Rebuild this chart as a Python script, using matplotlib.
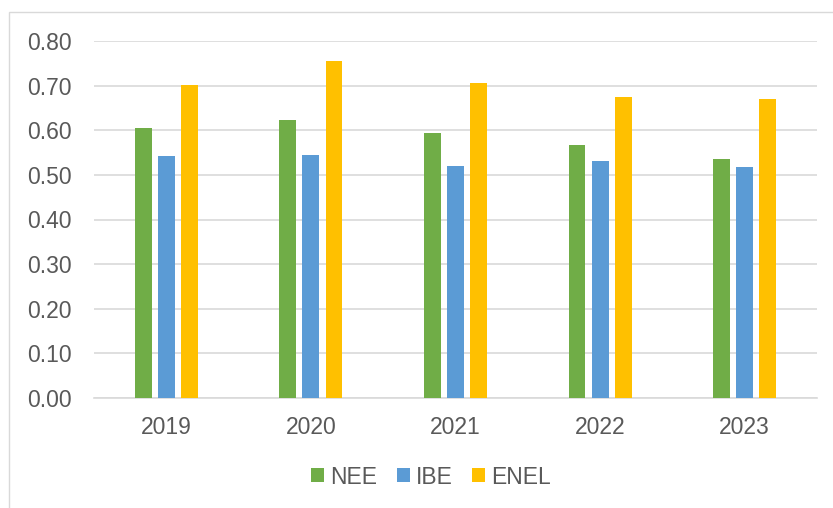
import matplotlib.pyplot as plt
import matplotlib.patches as mpatches
import numpy as np

years = ['2019', '2020', '2021', '2022', '2023']
nee = [0.605, 0.623, 0.594, 0.567, 0.535]
ibe = [0.542, 0.545, 0.519, 0.531, 0.518]
enel = [0.702, 0.756, 0.706, 0.675, 0.669]

series = [('NEE', nee, '#70AD47'), ('IBE', ibe, '#5B9BD5'), ('ENEL', enel, '#FFC000')]
txt = '#595959'
fs = 16.5

plt.rcParams['font.family'] = ['Liberation Sans', 'DejaVu Sans']

fig = plt.figure(figsize=(8.33, 5.08), dpi=100)
ax = fig.add_axes([94/833, 1 - 398/508, (817-94)/833, (398-41)/508])

x = np.arange(len(years))
w = 0.117
step = 0.16
for i, (name, vals, col) in enumerate(series):
    ax.bar(x + (i - 1) * step, vals, width=w, color=col, label=name, zorder=3)

ax.set_xlim(-0.5, len(years) - 0.5)
ax.set_ylim(0, 0.8)
ticks = np.arange(0, 0.81, 0.1)
ax.set_yticks(ticks)
ax.set_yticklabels(['%.2f' % v for v in ticks])
ax.set_xticks(x)
ax.set_xticklabels(years)
ax.grid(axis='y', color='#D9D9D9', linewidth=1.2, zorder=0)
for s in ['top', 'right', 'left']:
    ax.spines[s].set_visible(False)
ax.spines['bottom'].set_color('#D9D9D9')
ax.spines['bottom'].set_linewidth(1.2)
ax.tick_params(axis='both', length=0, labelsize=fs, colors=txt)
ax.tick_params(axis='y', pad=16)
ax.tick_params(axis='x', pad=13)

leg = fig.legend(loc='center', bbox_to_anchor=(431/833, 1 - 477/508), ncol=3, frameon=False,
                 fontsize=fs, handlelength=0.55, handleheight=0.55, handletextpad=0.26,
                 columnspacing=0.87)
for t in leg.get_texts():
    t.set_color(txt)

# outer chart border
fig.patches.append(mpatches.Rectangle((9/833, -0.01), 1.0, 1 - 12/508 + 0.01,
                                      transform=fig.transFigure, fill=False,
                                      edgecolor='#D9D9D9', linewidth=1))

fig.savefig('out.png', dpi=100)
